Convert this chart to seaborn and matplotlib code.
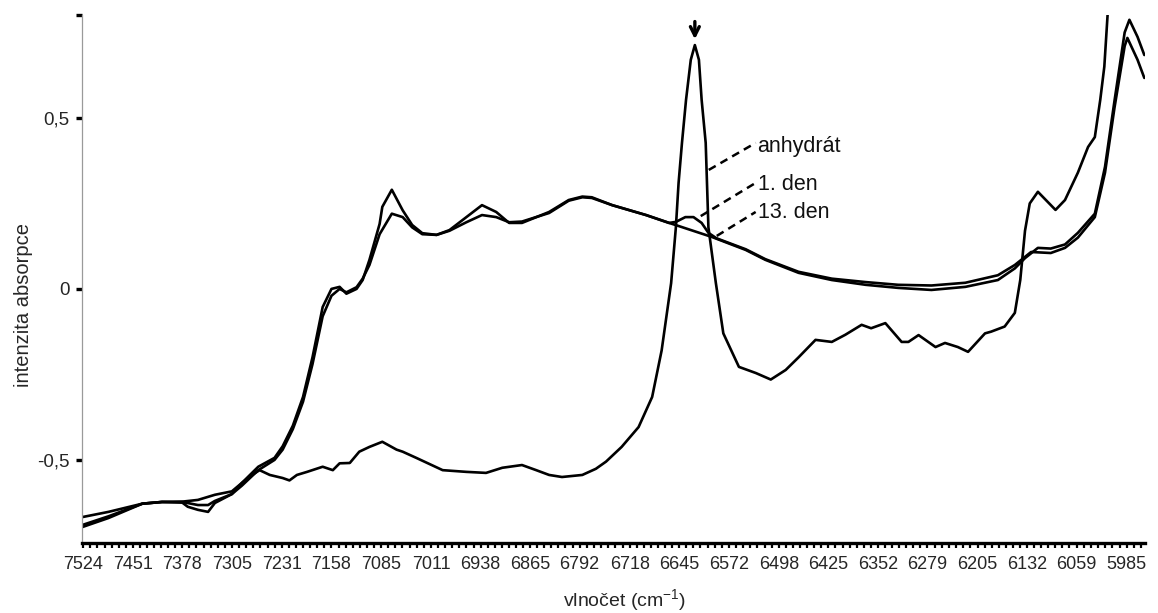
import numpy as np
import pandas as pd
import matplotlib
matplotlib.use("Agg")
import matplotlib.pyplot as plt
import seaborn as sns

sns.set_theme(style="white")
plt.rcParams["font.family"] = ["Liberation Sans", "DejaVu Sans"]
plt.rcParams["mathtext.fontset"] = "custom"
plt.rcParams["mathtext.rm"] = "Liberation Sans"
plt.rcParams["mathtext.it"] = "Liberation Sans"
plt.rcParams["axes.unicode_minus"] = False

# ---------------- data ----------------
anhydrat_w = [7525, 7487, 7437, 7408, 7378, 7355, 7330, 7305, 7290, 7272, 7264, 7249, 7230, 7220,
              7209, 7194, 7171, 7156, 7146, 7131, 7117, 7102, 7083, 7062, 7053, 7033, 6994, 6959,
              6930, 6906, 6877, 6856, 6837, 6818, 6788, 6768, 6753, 6730, 6705, 6685, 6671, 6657,
              6650, 6646, 6641, 6635, 6628, 6622, 6616, 6612, 6606, 6602, 6591, 6580, 6557, 6532,
              6510, 6488, 6469, 6444, 6420, 6400, 6376, 6362, 6341, 6317, 6307, 6292, 6267, 6253,
              6234, 6219, 6194, 6185, 6165, 6150, 6142, 6135, 6128, 6116, 6090, 6076, 6057, 6042,
              6032, 6024, 6018, 6013, 6005]
anhydrat_a = [-0.667, -0.652, -0.628, -0.623, -0.622, -0.617, -0.602, -0.592, -0.567, -0.540, -0.530,
              -0.544, -0.553, -0.560, -0.544, -0.535, -0.520, -0.530, -0.510, -0.509, -0.476, -0.462,
              -0.447, -0.470, -0.476, -0.494, -0.530, -0.535, -0.538, -0.523, -0.515, -0.530, -0.544,
              -0.550, -0.544, -0.526, -0.505, -0.462, -0.404, -0.316, -0.180, 0.017, 0.180, 0.310,
              0.427, 0.553, 0.670, 0.713, 0.670, 0.553, 0.427, 0.180, 0.017, -0.130, -0.228, -0.246,
              -0.265, -0.237, -0.200, -0.149, -0.155, -0.134, -0.105, -0.115, -0.100, -0.155, -0.155,
              -0.135, -0.170, -0.158, -0.170, -0.184, -0.130, -0.125, -0.110, -0.070, 0.026, 0.170,
              0.250, 0.284, 0.231, 0.260, 0.340, 0.415, 0.444, 0.553, 0.650, 0.807, 1.000]

den13_w = [7525, 7487, 7437, 7408, 7378, 7370, 7355, 7340, 7330, 7305, 7290, 7266, 7242, 7230, 7215,
           7200, 7186, 7171, 7158, 7146, 7136, 7121, 7112, 7102, 7087, 7083, 7069, 7053, 7039, 7024,
           7003, 6984, 6959, 6936, 6915, 6896, 6877, 6837, 6808, 6788, 6774, 6744, 6694, 6660, 6646,
           6620, 6597, 6547, 6518, 6469, 6420, 6370, 6322, 6273, 6223, 6175, 6150, 6135, 6116, 6097,
           6076, 6057, 6032, 6017, 6003, 5988, 5981, 5969, 5959]
den13_a = [-0.696, -0.670, -0.628, -0.623, -0.625, -0.637, -0.646, -0.652, -0.626, -0.600, -0.567,
           -0.520, -0.494, -0.460, -0.400, -0.316, -0.200, -0.053, 0.000, 0.006, -0.014, 0.000, 0.026,
           0.085, 0.190, 0.240, 0.290, 0.230, 0.187, 0.163, 0.158, 0.172, 0.210, 0.245, 0.225, 0.193,
           0.193, 0.225, 0.260, 0.270, 0.268, 0.245, 0.216, 0.193, 0.184, 0.167, 0.152, 0.114, 0.085,
           0.047, 0.026, 0.012, 0.003, -0.003, 0.006, 0.026, 0.060, 0.090, 0.120, 0.118, 0.130, 0.164,
           0.220, 0.357, 0.550, 0.750, 0.787, 0.737, 0.684]

den1_w = [7525, 7487, 7437, 7408, 7378, 7355, 7340, 7330, 7305, 7290, 7266, 7242, 7230, 7215, 7200,
          7186, 7171, 7158, 7146, 7136, 7121, 7112, 7102, 7087, 7069, 7053, 7039, 7024, 7003, 6984,
          6959, 6936, 6915, 6896, 6877, 6837, 6808, 6788, 6774, 6744, 6694, 6660, 6650, 6636, 6624,
          6612, 6602, 6590, 6547, 6518, 6469, 6420, 6370, 6322, 6273, 6223, 6175, 6150, 6126, 6097,
          6076, 6057, 6032, 6017, 6003, 5988, 5984, 5969, 5959]
den1_a = [-0.690, -0.665, -0.628, -0.623, -0.623, -0.632, -0.632, -0.620, -0.600, -0.575, -0.530,
          -0.500, -0.470, -0.410, -0.330, -0.220, -0.080, -0.020, 0.000, -0.010, 0.005, 0.030, 0.070,
          0.160, 0.220, 0.210, 0.180, 0.160, 0.158, 0.170, 0.195, 0.216, 0.210, 0.195, 0.197, 0.222,
          0.258, 0.268, 0.266, 0.245, 0.216, 0.193, 0.196, 0.210, 0.210, 0.193, 0.164, 0.148, 0.116,
          0.087, 0.050, 0.030, 0.020, 0.012, 0.010, 0.018, 0.040, 0.070, 0.108, 0.105, 0.120, 0.150,
          0.210, 0.340, 0.530, 0.710, 0.734, 0.670, 0.617]

xtick_values = [7524, 7451, 7378, 7305, 7231, 7158, 7085, 7011, 6938, 6865, 6792,
                6718, 6645, 6572, 6498, 6425, 6352, 6279, 6205, 6132, 6059, 5985]
ytick_values = [-0.5, 0.0, 0.5]
ytick_labels = ["-0,5", "0", "0,5"]

series_names = ["anhydrát", "1. den", "13. den"]

df = pd.concat([
    pd.DataFrame({"w": anhydrat_w, "A": anhydrat_a, "serie": series_names[0]}),
    pd.DataFrame({"w": den1_w, "A": den1_a, "serie": series_names[1]}),
    pd.DataFrame({"w": den13_w, "A": den13_a, "serie": series_names[2]}),
], ignore_index=True)

# ---------------- figure ----------------
W, H = 1158, 613
fig = plt.figure(figsize=(W / 100, H / 100), dpi=100)
ax = fig.add_axes([82 / W, 1 - 543 / H, 1063 / W, 528 / H])

sns.lineplot(data=df, x="w", y="A", units="serie", estimator=None, color="black",
             linewidth=1.9, ax=ax, legend=False)

ax.set_xlim(7526, 5958)
ax.set_ylim(-0.743, 0.801)

# spines
for s in ["top", "right"]:
    ax.spines[s].set_visible(False)
ax.spines["left"].set_color("#9a9a9a")
ax.spines["left"].set_linewidth(0.9)
ax.spines["bottom"].set_color("black")
ax.spines["bottom"].set_linewidth(2.4)

# x ticks
ax.set_xticks(xtick_values)
ax.set_xticklabels([str(v) for v in xtick_values])
minor = []
for a, b in zip(xtick_values[:-1], xtick_values[1:]):
    minor.extend(np.linspace(a, b, 8)[1:-1])
minor.extend(np.arange(xtick_values[-1] - 73.3 / 7, 5959, -(73.3 / 7)))
ax.set_xticks(minor, minor=True)
ax.tick_params(axis="x", which="major", direction="out", length=3.5, width=1.6, color="black",
               labelsize=13, pad=6, bottom=True)
ax.tick_params(axis="x", which="minor", direction="out", length=3.5, width=1.6, color="black",
               bottom=True)

# y ticks
ax.set_yticks(ytick_values + [0.8])
ax.set_yticklabels(ytick_labels + [""])
ax.tick_params(axis="y", which="major", direction="out", length=4, width=2.4, color="black",
               labelsize=13.5, pad=5, left=True)

ax.set_xlabel("vlnočet (cm$^{-1}$)", fontsize=14)
ax.set_ylabel("intenzita absorpce", fontsize=14.5)
ax.xaxis.set_label_coords(0.51, -0.083)
ax.yaxis.set_label_coords(-0.046, 0.45)
ax.grid(False)

# labels with dashed leader lines
leaders = [
    ((6601.5, 0.348), (6532.3, 0.427), (6530.5, 0.400), series_names[0]),
    ((6613.3, 0.213), (6532.3, 0.310), (6529.4, 0.289), series_names[1]),
    ((6589.7, 0.155), (6532.3, 0.225), (6529.4, 0.208), series_names[2]),
]
for (x0, y0), (x1, y1), (tx, ty), name in leaders:
    ax.plot([x0, x1], [y0, y1], color="black", lw=1.8, ls=(0, (3.2, 2.2)))
    ax.text(tx, ty, name, fontsize=15.5, va="baseline", ha="left", color="#111111")

# arrow over the anhydrate peak
ax.annotate("", xy=(6622, 0.722), xytext=(6622, 0.79),
            arrowprops=dict(arrowstyle="->", lw=2.4, color="black", mutation_scale=16),
            annotation_clip=False)

fig.savefig("out.png", dpi=100)
